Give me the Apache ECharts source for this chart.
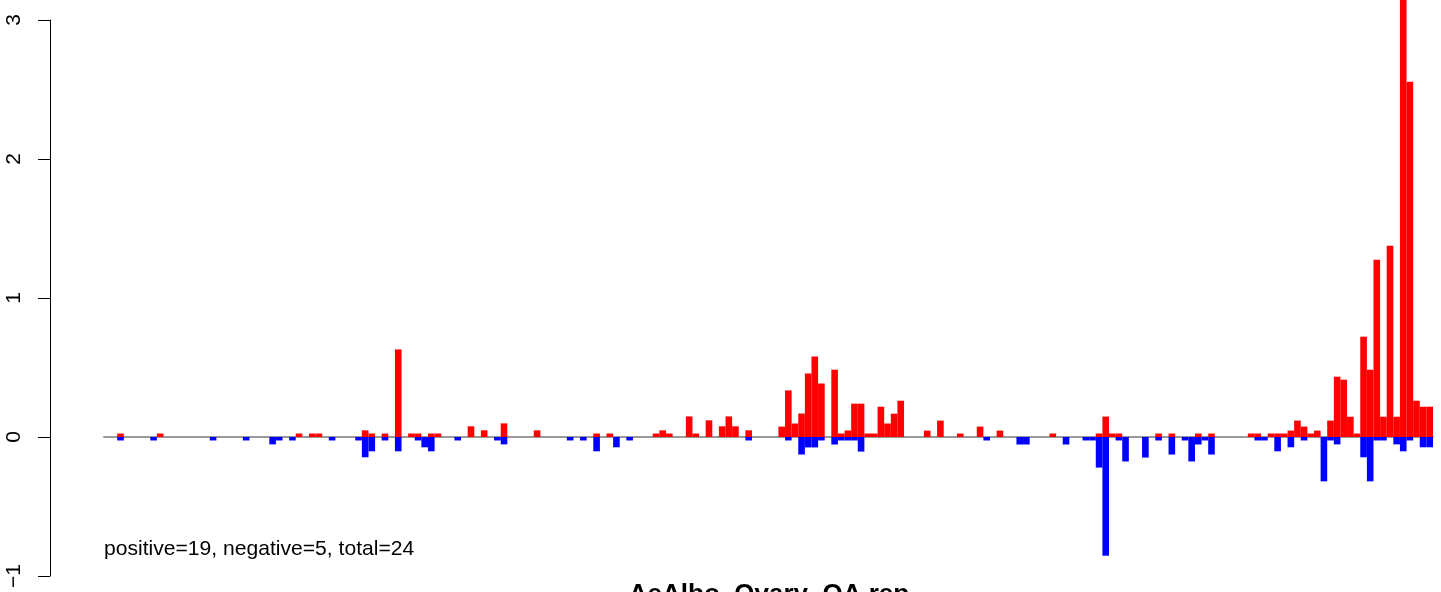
<!DOCTYPE html>
<html>
<head>
<meta charset="utf-8">
<script src="https://cdn.jsdelivr.net/npm/echarts@6/dist/echarts.min.js"></script>
<style>
html,body{margin:0;padding:0;background:#fff;}
#chart{width:1441px;height:592px;}
</style>
</head>
<body>
<div id="chart"></div>
<script>
// ---- data ----
const binCount = 201;
const categories = Array.from({length: binCount}, (_, i) => 'bin' + (i + 1));
const yTicks = [-1, 0, 1, 2, 3];

const positiveBins = [2, 8, 29, 31, 32, 39, 40, 42, 44, 46, 47, 49, 50, 55, 57, 60, 65, 74, 76, 83, 84, 85, 88, 89, 91, 93, 94, 95, 97,
  102, 103, 104, 105, 106, 107, 108, 110, 111, 112, 113, 114, 115, 116, 117, 118, 119, 120, 124, 126, 129, 132, 135, 143,
  150, 151, 152, 153, 159, 161, 165, 167, 173, 174, 176, 177, 178, 179, 180, 181, 182, 183, 185, 186, 187, 188, 189,
  190, 191, 192, 193, 194, 195, 196, 197, 198, 199, 200];
const positiveValues = [0.025, 0.025, 0.025, 0.025, 0.025, 0.048, 0.025, 0.025, 0.63, 0.025, 0.025, 0.025, 0.025, 0.077, 0.048, 0.098, 0.048, 0.025, 0.025, 0.025, 0.048, 0.025, 0.148, 0.025, 0.12, 0.077, 0.148, 0.077, 0.048,
  0.075, 0.335, 0.097, 0.169, 0.457, 0.579, 0.385, 0.484, 0.025, 0.047, 0.24, 0.24, 0.025, 0.025, 0.218, 0.097, 0.168, 0.261, 0.046, 0.118, 0.025, 0.075, 0.046, 0.025,
  0.025, 0.147, 0.025, 0.025, 0.025, 0.025, 0.025, 0.025, 0.025, 0.025, 0.025, 0.025, 0.025, 0.046, 0.118, 0.075, 0.025, 0.046, 0.118, 0.434, 0.412, 0.146, 0.025,
  0.722, 0.484, 1.276, 0.146, 1.376, 0.146, 3.3, 2.556, 0.261, 0.218, 0.218];

const negativeBins = [2, 7, 16, 21, 25, 26, 28, 34, 38, 39, 40, 42, 44, 47, 48, 49, 53, 59, 60, 70, 72, 74, 77, 79, 97,
  103, 105, 106, 107, 108, 110, 111, 112, 113, 114, 133, 138, 139, 145, 148, 149, 150, 151, 153, 154, 157, 159, 161,
  163, 164, 165, 166, 167, 174, 175, 177, 179, 181, 184, 185, 186, 190, 191, 192, 193, 195, 196, 197, 199, 200];
const negativeValues = [-0.025, -0.025, -0.025, -0.025, -0.053, -0.025, -0.025, -0.025, -0.025, -0.146, -0.103, -0.025, -0.103, -0.025, -0.074, -0.103, -0.025, -0.025, -0.053, -0.025, -0.025, -0.103, -0.074, -0.025, -0.025,
  -0.025, -0.126, -0.075, -0.075, -0.025, -0.054, -0.025, -0.025, -0.025, -0.105, -0.025, -0.054, -0.054, -0.054, -0.025, -0.025, -0.22, -0.854, -0.025, -0.176, -0.148, -0.025, -0.126,
  -0.025, -0.176, -0.054, -0.025, -0.126, -0.025, -0.025, -0.103, -0.074, -0.025, -0.319, -0.025, -0.053, -0.146, -0.319, -0.025, -0.025, -0.053, -0.103, -0.025, -0.074, -0.074];

const summaryText = 'positive=19, negative=5, total=24';
const titleText = 'AeAlbo_Ovary_OA.rep';

// ---- build full series arrays ----
function fill(bins, vals) {
  const arr = new Array(binCount).fill(null);
  bins.forEach((b, i) => { arr[b] = vals[i]; });
  return arr;
}
const posData = fill(positiveBins, positiveValues);
const negData = fill(negativeBins, negativeValues);

const FONT = '"Liberation Sans", Arial, sans-serif';
const chart = echarts.init(document.getElementById('chart'), null, {renderer: 'canvas'});
chart.setOption({
  animation: false,
  backgroundColor: '#ffffff',
  grid: {left: 104, right: 8, top: 20, bottom: 16, containLabel: false},
  xAxis: {
    type: 'category',
    data: categories,
    boundaryGap: true,
    axisLine: {show: true, onZero: true, lineStyle: {color: '#9a9a9a', width: 2}},
    axisTick: {show: false},
    axisLabel: {show: false},
    splitLine: {show: false}
  },
  yAxis: {
    type: 'value',
    min: yTicks[0], max: yTicks[yTicks.length - 1], interval: 1,
    offset: 54,
    axisLine: {show: true, lineStyle: {color: '#000', width: 1}},
    axisTick: {show: true, length: 12, lineStyle: {color: '#000', width: 1}},
    axisLabel: {
      show: true, rotate: 90, margin: 25,
      fontFamily: FONT, fontSize: 21, color: '#000',
      formatter: v => (v < 0 ? '\u2212' + Math.abs(v) : String(v))
    },
    splitLine: {show: false}
  },
  series: [
    {
      name: 'positive', type: 'bar', data: posData,
      barWidth: '100%', barGap: '-100%', clip: false,
      itemStyle: {color: '#ff0000'}
    },
    {
      name: 'negative', type: 'bar', data: negData,
      barWidth: '100%', barGap: '-100%', clip: false,
      itemStyle: {color: '#0000ff'}
    }
  ],
  graphic: [
    {type: 'text', left: 104, top: 539, style: {text: summaryText, font: '21.1px ' + FONT, fill: '#000'}},
    {type: 'text', x: 769, y: 582, style: {text: titleText, font: 'bold 26px ' + FONT, fill: '#000', align: 'center', verticalAlign: 'top'}}
  ]
});
</script>
</body>
</html>
